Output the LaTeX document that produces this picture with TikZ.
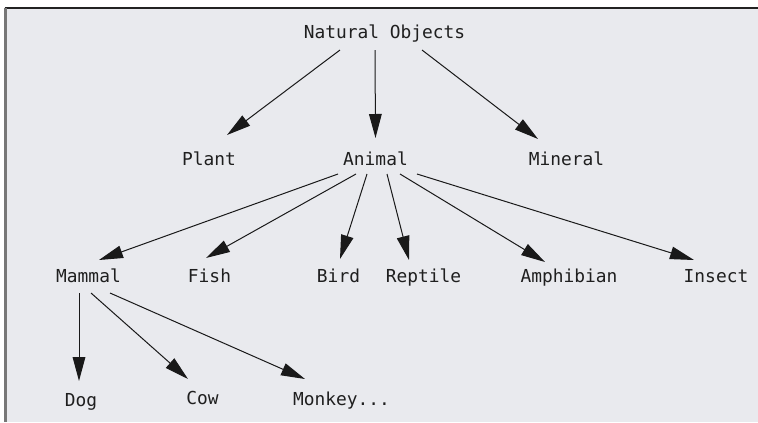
\documentclass[tikz,border=0pt]{standalone}
\usepackage{fontspec}
\setmonofont{DejaVu Sans Mono}
\usetikzlibrary{arrows.meta,calc}
\definecolor{bgpanel}{HTML}{E9EAEE}
\definecolor{leftrule}{HTML}{777777}
\definecolor{toprule}{HTML}{222222}
\tikzset{
  lbl/.style={anchor=base, inner sep=0pt, font=\ttfamily\fontsize{13.4pt}{15pt}\selectfont, text=black!88},
  arr/.style={line width=0.75pt, draw=black!90, -{Triangle[length=18pt,width=9.5pt]}}
}
\begin{document}
\begin{tikzpicture}[x=0.75pt,y=-0.75pt]
\useasboundingbox (0,0) rectangle (758,422);
\fill[white] (0,0) rectangle (758,422);
\fill[bgpanel] (6,8) rectangle (758,422);
\draw[toprule, line width=1.1pt] (4.5,8) -- (758,8);
\draw[leftrule, line width=1.6pt] (5.5,8) -- (5.5,422);

% nodes
\node[lbl] (nat) at (384.5,38.5) {Natural Objects};
\node[lbl] (plant) at (209,165) {Plant};
\node[lbl] (animal) at (375.5,165) {Animal};
\node[lbl] (mineral) at (566.5,165) {Mineral};
\node[lbl] (mammal) at (88.5,282) {Mammal};
\node[lbl] (fish) at (209.5,282) {Fish};
\node[lbl] (bird) at (338.5,282) {Bird};
\node[lbl] (reptile) at (423.5,282) {Reptile};
\node[lbl] (amph) at (569,282) {Amphibian};
\node[lbl] (insect) at (716,282) {Insect};
\node[lbl] (dog) at (81,406) {Dog};
\node[lbl] (cow) at (202.5,404) {Cow};
\node[lbl] (monkey) at (341.5,405) {Monkey...};

% connectors (anchored on the named nodes)
\draw[arr] ($(nat.base)+(-44.5,11.5)$) -- ($(plant.base)+(18,-30)$);
\draw[arr] ($(nat.base)+(-9.5,11.5)$) -- ($(animal.base)+(0,-27)$);
\draw[arr] ($(nat.base)+(37.5,11.5)$) -- ($(mineral.base)+(-28.5,-26)$);

\draw[arr] ($(animal.base)+(-37.5,9)$) -- ($(mammal.base)+(10.5,-22)$);
\draw[arr] ($(animal.base)+(-19.5,9)$) -- ($(fish.base)+(-3.5,-24)$);
\draw[arr] ($(animal.base)+(-8.5,9)$) -- ($(bird.base)+(1.5,-23)$);
\draw[arr] ($(animal.base)+(11.5,9)$) -- ($(reptile.base)+(-14.5,-22)$);
\draw[arr] ($(animal.base)+(24.5,9)$) -- ($(amph.base)+(-24,-20)$);
\draw[arr] ($(animal.base)+(41.5,9)$) -- ($(insect.base)+(-22,-22)$);

\draw[arr] ($(mammal.base)+(-9.5,11)$) -- ($(dog.base)+(-2,-25)$);
\draw[arr] ($(mammal.base)+(2.5,11)$) -- ($(cow.base)+(-14.5,-25)$);
\draw[arr] ($(mammal.base)+(21.5,11)$) -- ($(monkey.base)+(-36.5,-26)$);
\end{tikzpicture}
\end{document}
